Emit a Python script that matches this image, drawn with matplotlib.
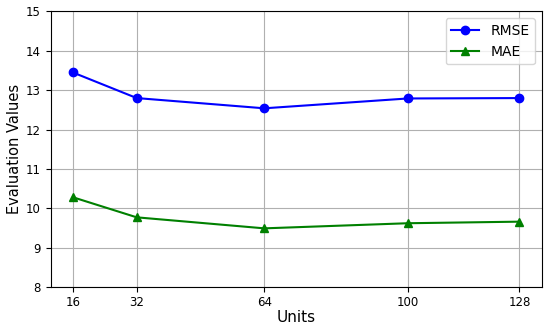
import matplotlib
matplotlib.use("Agg")
import matplotlib.pyplot as plt

units = [16, 32, 64, 100, 128]
rmse = [13.45, 12.80, 12.54, 12.79, 12.80]
mae = [10.28, 9.77, 9.49, 9.62, 9.66]

fig, ax = plt.subplots(figsize=(5.5, 3.28), dpi=100)
ax.plot(units, rmse, marker='o', color='blue', markersize=6, label='RMSE')
ax.plot(units, mae, marker='^', color='green', markersize=6, label='MAE')

ax.set_xticks(units)
ax.set_ylim(8, 15)
ax.tick_params(labelsize=8.5)
ax.tick_params(axis='x', pad=3)
ax.set_xlabel('Units', fontsize=11, labelpad=1)
ax.set_ylabel('Evaluation Values', fontsize=10.5, labelpad=3)
ax.grid(True)
ax.legend(loc='upper right', fontsize=10)

fig.subplots_adjust(left=0.092, right=0.985, top=0.965, bottom=0.125)
fig.savefig('out.png', dpi=100)
